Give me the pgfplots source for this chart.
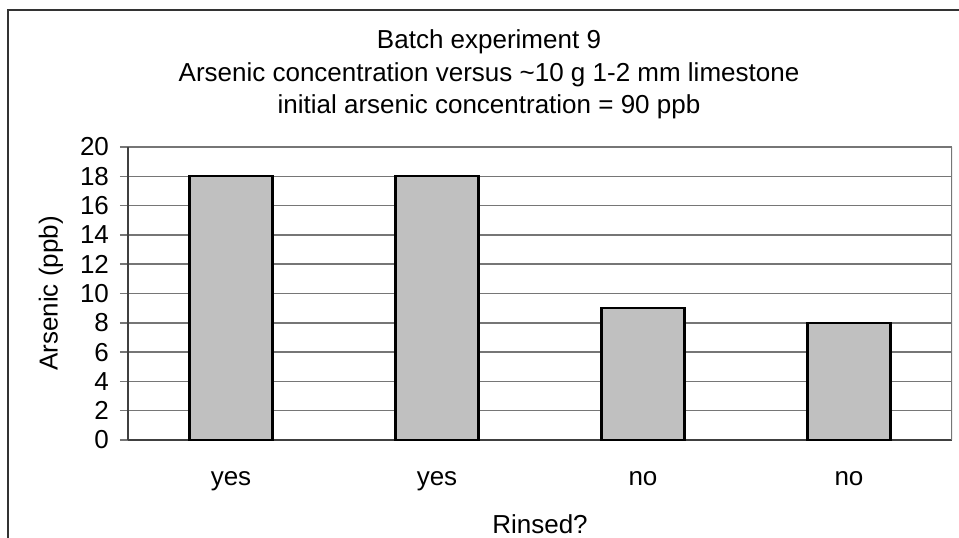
\documentclass[border=0pt]{standalone}
\usepackage{fontspec}
\setmainfont{Liberation Sans}
\usepackage{pgfplots}
\pgfplotsset{compat=1.18}
\definecolor{barfill}{RGB}{192,192,192}
\definecolor{gridc}{RGB}{118,118,118}
\definecolor{axc}{RGB}{64,64,64}

\begin{document}
\begin{tikzpicture}
\useasboundingbox (-64pt,-48.5pt) rectangle (415.5pt,220pt);
% outer chart frame (cropped on the right and bottom)
\draw[black!80, line width=1pt] (-60pt,-60pt) -- (-60pt,215pt) -- (420pt,215pt);
\begin{axis}[
  at={(0,0)}, anchor=south west,
  scale only axis,
  width=412pt, height=146.5pt,
  xmin=-0.5, xmax=3.5, ymin=0, ymax=20,
  axis lines*=left,
  axis line style={axc, line width=0.75pt, -},
  ytick={0,2,...,20},
  xtick={0,1,2,3},
  xticklabels={yes,yes,no,no},
  major x tick style={draw=none},
  extra x ticks={-0.5,0.5,1.5,2.5,3.5},
  extra x tick labels={},
  extra x tick style={major tick length=4pt, tick style={gridc, line width=0.75pt}},
  tick align=outside,
  major tick length=4pt,
  y tick style={gridc, line width=0.75pt},
  ymajorgrids,
  grid style={gridc, line width=0.75pt},
  tick label style={font=\fontsize{13}{15}\selectfont},
  /pgf/number format/assume math mode=true,
  yticklabel style={xshift=-2pt},
  xticklabel style={anchor=base, yshift=-18.5pt},
  label style={font=\fontsize{13}{15}\selectfont},
  xlabel={Rinsed?},
  ylabel={Arsenic (ppb)},
  x label style={at={(axis description cs:0.5,-0.3174)}, anchor=base},
  y label style={at={(axis description cs:-0.0935,0.5)}, anchor=center},
]
\addplot[ybar, bar width=41.5pt, fill=barfill, draw=black, line width=1.1pt]
  coordinates {(0,18) (1,18) (2,9) (3,8)};
\draw[gridc, line width=0.75pt] (rel axis cs:1,0) -- (rel axis cs:1,1);
\end{axis}
\begin{scope}[every node/.style={font=\fontsize{13}{15}\selectfont, anchor=base}]
\node at (180.5pt,196pt) {Batch experiment 9};
\node at (180.5pt,179.5pt) {Arsenic concentration versus \textasciitilde10 g 1-2 mm limestone};
\node at (180.5pt,163.5pt) {initial arsenic concentration = 90 ppb};
\end{scope}
\end{tikzpicture}
\end{document}
